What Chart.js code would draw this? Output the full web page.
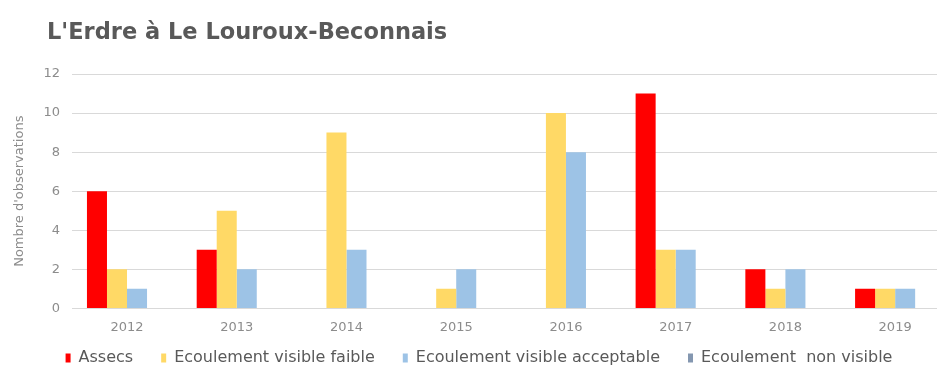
<!DOCTYPE html>
<html>
<head>
<meta charset="utf-8">
<script src="https://cdn.jsdelivr.net/npm/chart.js@4"></script>
<style>
  html, body { margin: 0; padding: 0; background: #fff; overflow: hidden; }
  #wrap { position: relative; width: 950px; height: 378px; }
  #title {
    position: absolute; left: 47px; top: 18px;
    font-family: "DejaVu Sans", sans-serif; font-weight: bold; font-size: 22.5px;
    color: #595959;
  }
</style>
</head>
<body>
<div id="wrap">
  <div id="title">L'Erdre à Le Louroux-Beconnais</div>
  <canvas id="myChart" width="950" height="378"></canvas>
</div>
<script>
// data
let years = ["2012", "2013", "2014", "2015", "2016", "2017", "2018", "2019"];
let seriesNames = ["Assecs", "Ecoulement visible faible", "Ecoulement visible acceptable", "Ecoulement  non visible"];
let assecs = [6, 3, 0, 0, 0, 11, 2, 1];
let visibleFaible = [2, 5, 9, 1, 10, 3, 1, 1];
let visibleAcceptable = [1, 2, 3, 2, 8, 3, 2, 1];
let nonVisible = [0, 0, 0, 0, 0, 0, 0, 0];
let colors = ["#ff0000", "#ffd966", "#9dc3e6", "#8497b0"];

let allValues = [assecs, visibleFaible, visibleAcceptable, nonVisible];
let datasets = [];
for (let i = 0; i < seriesNames.length; i++) {
  datasets.push({
    label: seriesNames[i],
    data: allValues[i],
    backgroundColor: colors[i],
    borderWidth: 0,
    categoryPercentage: 0.73,
    barPercentage: 1.0,
  });
}

// legend keeps wide gaps between items but sits closer to the axis
let legendShift = 16;
const legendTweak = {
  id: "legendTweak",
  afterInit(chart) {
    let legend = chart.legend;
    let origFit = legend.fit;
    legend.fit = function () {
      origFit.call(this);
      this.height -= legendShift;
    };
  },
  afterLayout(chart) {
    chart.legend.top -= legendShift;
  },
};

const config = {
  type: "bar",
  data: { labels: years, datasets: datasets },
  options: {
    responsive: false,
    animation: false,
    layout: { padding: { top: 74, left: 8, right: 0, bottom: 2 } },
    plugins: {
      tooltip: { enabled: false },
      legend: {
        position: "bottom",
        labels: {
          boxWidth: 5,
          boxHeight: 9,
          padding: 28,
          color: "#595959",
          font: { family: "DejaVu Sans", size: 16 },
        },
      },
    },
    scales: {
      x: {
        grid: { display: false },
        border: { display: true, color: "#d9d9d9" },
        ticks: { color: "#8c8c8c", font: { family: "DejaVu Sans", size: 13 }, padding: 3 },
      },
      y: {
        min: 0,
        max: 12,
        ticks: { stepSize: 2, color: "#8c8c8c", font: { family: "DejaVu Sans", size: 13 }, padding: 12 },
        grid: { color: "#d9d9d9", drawTicks: false },
        border: { display: false },
        title: {
          display: true,
          text: "Nombre d'observations",
          color: "#8c8c8c",
          font: { family: "DejaVu Sans", size: 13 },
        },
      },
    },
  },
  plugins: [legendTweak],
};

let canvasChart = document.getElementById("myChart").getContext("2d");
const myChart = new Chart(canvasChart, config);
</script>
</body>
</html>
